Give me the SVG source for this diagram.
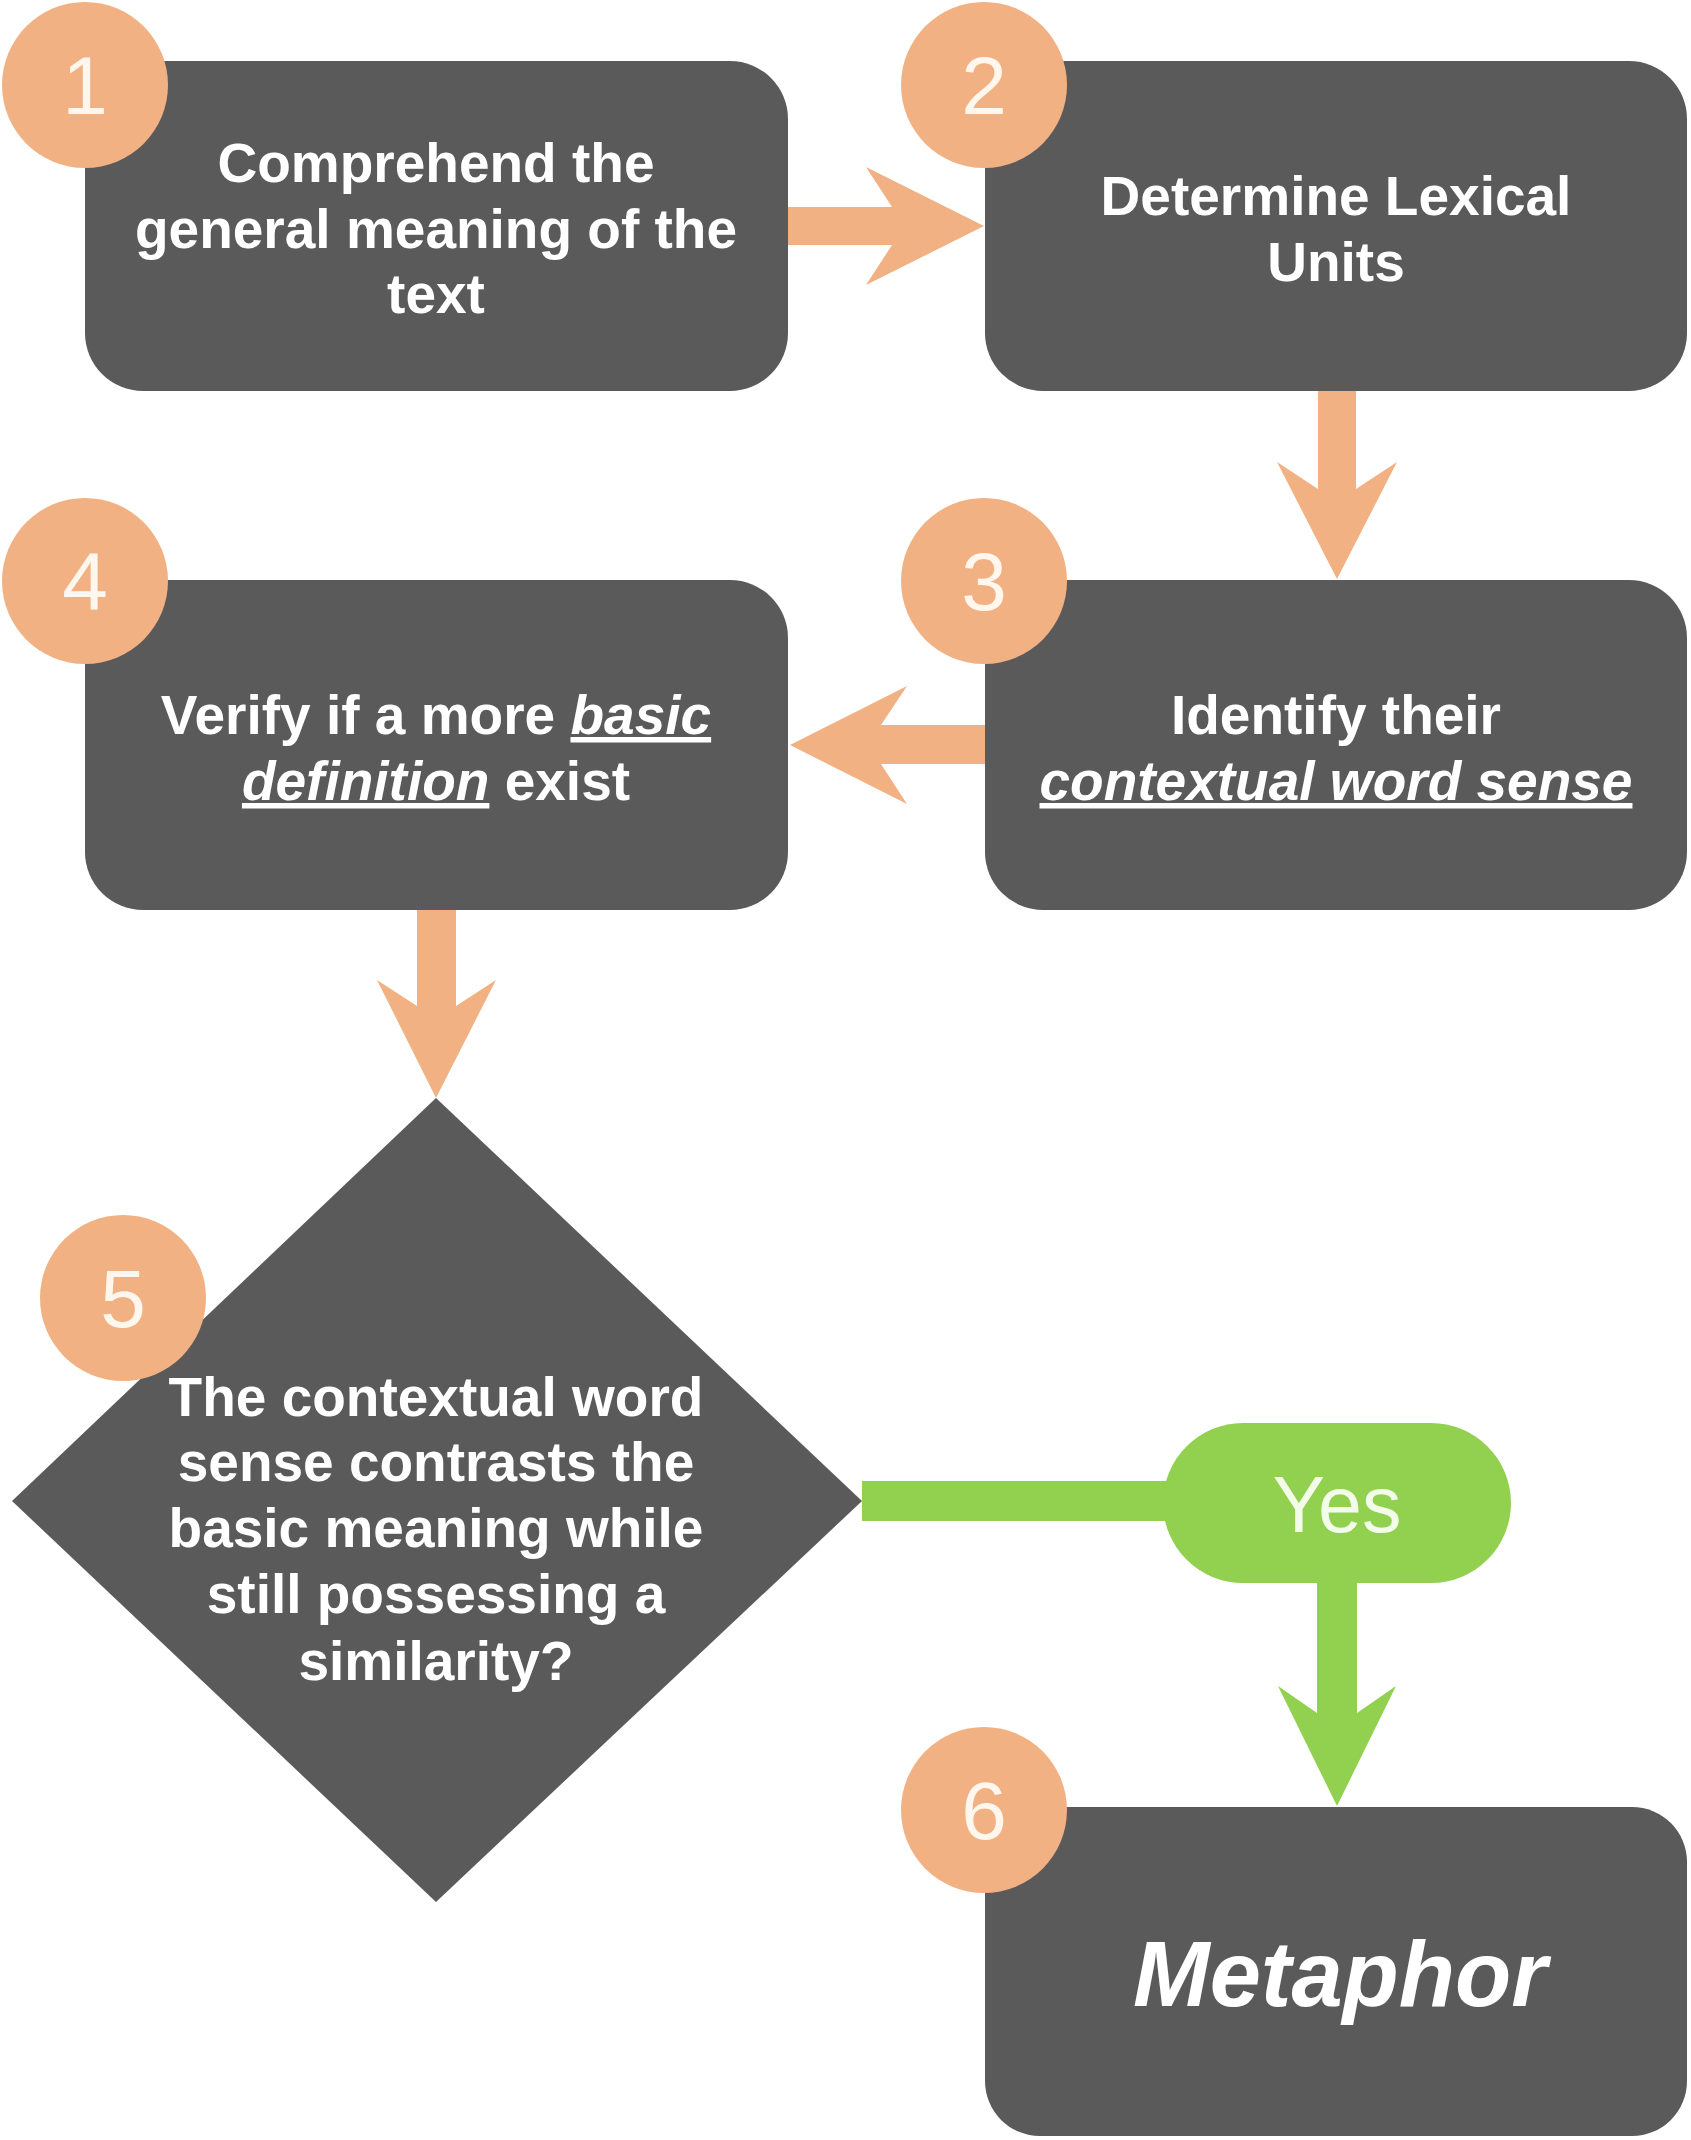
<svg xmlns="http://www.w3.org/2000/svg" width="1691" height="2140" viewBox="0 0 1691 2140">
<style>
.box{fill:#5a5a5a}
.badge{fill:#f2b183}
.num{font-family:"Liberation Sans",Arial,sans-serif;font-size:82px;fill:#fff7ee;text-anchor:middle}
.t{font-family:"Liberation Sans",Arial,sans-serif;font-size:55px;font-weight:bold;fill:#ffffff;text-anchor:middle}
.em{font-style:italic;text-decoration:underline}
.oarrow{fill:#f2b183}
.garrow{fill:#92d050}
</style>
<rect x="0" y="0" width="1691" height="2140" fill="#ffffff"/>
<g id="connectors">
<polygon class="oarrow" points="788,207 892,207 866,167 984,226 866,285 892,245 788,245"/>
<polygon class="oarrow" points="1318,391 1356,391 1356,489 1397,462 1337,579 1277,462 1318,489"/>
<polygon class="oarrow" points="985,725 881,725 907,686 790,745 907,804 881,764 985,764"/>
<polygon class="oarrow" points="417,910 456,910 456,1006 496,980 436,1098 377,980 417,1006"/>
<rect class="garrow" x="862" y="1481" width="340" height="40"/>
<polygon class="garrow" points="1317,1580 1357,1580 1357,1713 1396,1686 1337,1806 1278,1686 1317,1713"/>
</g>
<g id="node1">
<rect class="box" x="85" y="61" width="703" height="330" rx="58"/>
<text class="t" x="436" y="182">Comprehend the</text>
<text class="t" x="436" y="248">general meaning of the</text>
<text class="t" x="436" y="313">text</text>
<circle class="badge" cx="85" cy="85" r="83"/>
<text class="num" x="85" y="114">1</text>
</g>
<g id="node2">
<rect class="box" x="985" y="61" width="702" height="330" rx="58"/>
<text class="t" x="1336" y="215">Determine Lexical</text>
<text class="t" x="1336" y="281">Units</text>
<circle class="badge" cx="984" cy="85" r="83"/>
<text class="num" x="984" y="114">2</text>
</g>
<g id="node3">
<rect class="box" x="985" y="580" width="702" height="330" rx="58"/>
<text class="t" x="1336" y="734">Identify their</text>
<text class="t" x="1336" y="800"><tspan class="em">contextual word sense</tspan></text>
<circle class="badge" cx="984" cy="581" r="83"/>
<text class="num" x="984" y="610">3</text>
</g>
<g id="node4">
<rect class="box" x="85" y="580" width="703" height="330" rx="58"/>
<text class="t" x="436" y="734">Verify if a more <tspan class="em">basic</tspan></text>
<text class="t" x="436" y="800"><tspan class="em">definition</tspan> exist</text>
<circle class="badge" cx="85" cy="581" r="83"/>
<text class="num" x="85" y="610">4</text>
</g>
<g id="node5">
<polygon class="box" points="436,1098 862,1501 436,1902 12,1501"/>
<text class="t" x="436" y="1416">The contextual word</text>
<text class="t" x="436" y="1481">sense contrasts the</text>
<text class="t" x="436" y="1547">basic meaning while</text>
<text class="t" x="436" y="1613">still possessing a</text>
<text class="t" x="436" y="1680">similarity?</text>
<circle class="badge" cx="123" cy="1298" r="83"/>
<text class="num" x="123" y="1327">5</text>
</g>
<g id="yes">
<rect x="1163" y="1423" width="348" height="160" rx="80" fill="#92d050"/>
<text x="1337" y="1532" font-family="'Liberation Sans',Arial,sans-serif" font-size="79" fill="#f3fbe9" text-anchor="middle">Yes</text>
</g>
<g id="node6">
<rect class="box" x="985" y="1807" width="702" height="329" rx="55"/>
<text x="1340" y="2006" font-family="'Liberation Sans',Arial,sans-serif" font-size="92" font-weight="bold" font-style="italic" fill="#ffffff" text-anchor="middle">Metaphor</text>
<circle class="badge" cx="984" cy="1810" r="83"/>
<text class="num" x="984" y="1839">6</text>
</g>
</svg>
